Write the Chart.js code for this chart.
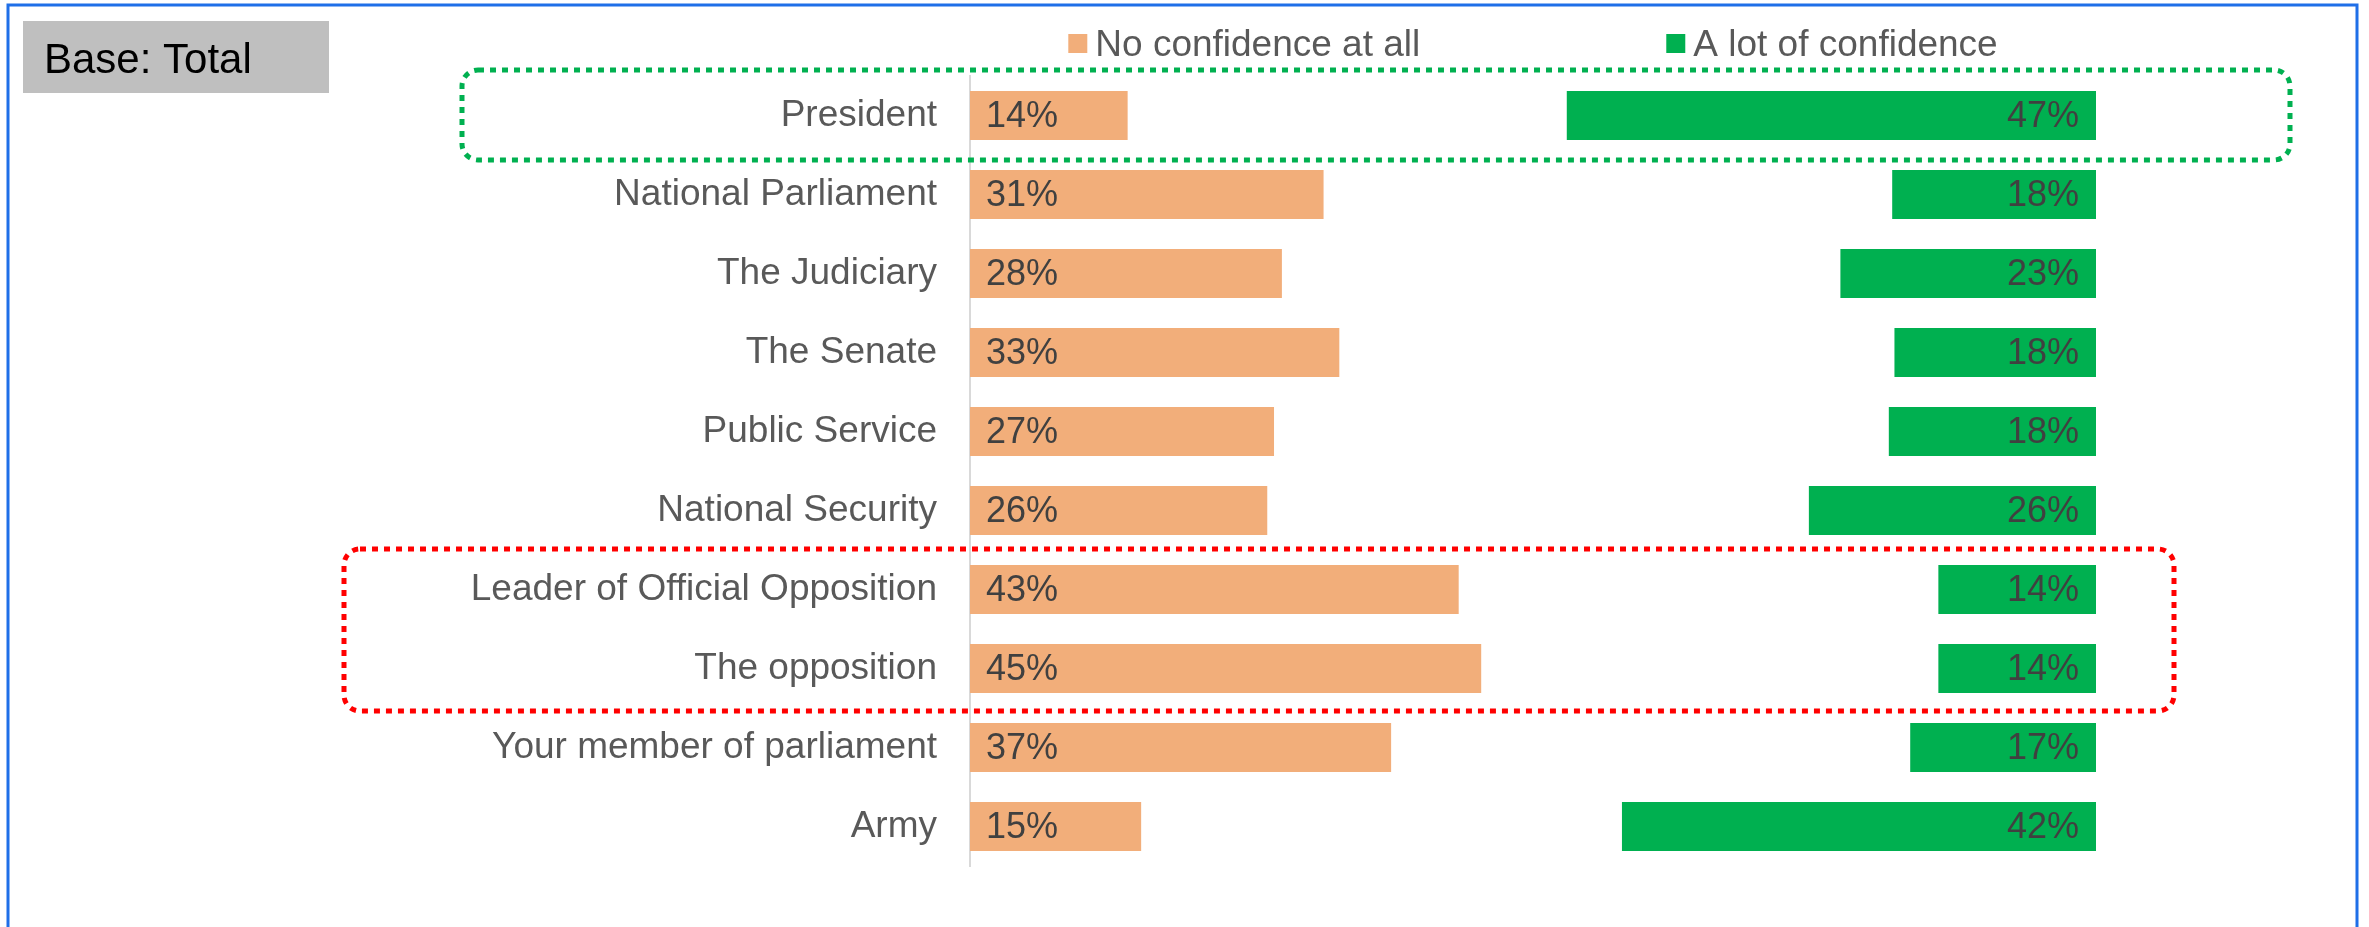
<!DOCTYPE html>
<html>
<head>
<meta charset="utf-8">
<script src="https://cdn.jsdelivr.net/npm/chart.js@4.4.1/dist/chart.umd.min.js"></script>
<style>
html,body{margin:0;padding:0;background:#ffffff;overflow:hidden;}
canvas{display:block;}
</style>
</head>
<body>
<canvas id="c" width="2369" height="927"></canvas>
<script>
// ---- data ----
const categories = [
  'President',
  'National Parliament',
  'The Judiciary',
  'The Senate',
  'Public Service',
  'National Security',
  'Leader of Official Opposition',
  'The opposition',
  'Your member of parliament',
  'Army'
];
const noConfidence  = [14.0, 31.4, 27.7, 32.8, 27.0, 26.4, 43.4, 45.4, 37.4, 15.2];
const lotConfidence = [47.0, 18.1, 22.7, 17.9, 18.4, 25.5, 14.0, 14.0, 16.5, 42.1];
const seriesNames = ['No confidence at all', 'A lot of confidence'];
const baseLabel = 'Base: Total';
const xTicks = [0, 100];

// ---- styles ----
const ORANGE = '#F2AE7A';
const GREEN = '#00B050';
const FONT = '"Liberation Sans", Arial, Helvetica, sans-serif';

const gap = categories.map((_, i) => 100 - noConfidence[i] - lotConfidence[i]);

function roundRectPath(ctx, x, y, w, h, r) {
  ctx.beginPath();
  ctx.moveTo(x + r, y);
  ctx.lineTo(x + w - r, y);
  ctx.arcTo(x + w, y, x + w, y + r, r);
  ctx.lineTo(x + w, y + h - r);
  ctx.arcTo(x + w, y + h, x + w - r, y + h, r);
  ctx.lineTo(x + r, y + h);
  ctx.arcTo(x, y + h, x, y + h - r, r);
  ctx.lineTo(x, y + r);
  ctx.arcTo(x, y, x + r, y, r);
  ctx.closePath();
}

const valueLabels = {
  id: 'valueLabels',
  afterDatasetsDraw(chart) {
    const ctx = chart.ctx;
    ctx.save();
    ctx.font = '36px ' + FONT;
    ctx.fillStyle = '#404040';
    ctx.textBaseline = 'middle';
    const m0 = chart.getDatasetMeta(0);
    m0.data.forEach((bar, i) => {
      ctx.textAlign = 'left';
      ctx.fillText(Math.round(noConfidence[i]) + '%', bar.base + 16, bar.y + 2);
    });
    const m2 = chart.getDatasetMeta(2);
    m2.data.forEach((bar, i) => {
      ctx.textAlign = 'right';
      ctx.fillText(Math.round(lotConfidence[i]) + '%', bar.x - 17, bar.y + 2);
    });
    ctx.restore();
  }
};

const decor = {
  id: 'decor',
  beforeDraw(chart) {
    const ctx = chart.ctx;
    ctx.save();
    ctx.fillStyle = '#ffffff';
    ctx.fillRect(0, 0, chart.width, chart.height);
    ctx.restore();
  },
  afterDraw(chart) {
    const ctx = chart.ctx;
    const ca = chart.chartArea;
    const ys = chart.scales.y;
    ctx.save();

    // Base box
    ctx.fillStyle = '#BFBFBF';
    ctx.fillRect(23, 21, 306, 72);
    ctx.fillStyle = '#000000';
    ctx.font = '42px ' + FONT;
    ctx.textAlign = 'left';
    ctx.textBaseline = 'middle';
    ctx.fillText(baseLabel, 44, 61);

    // Legend (centered over chart area)
    ctx.font = '37px ' + FONT;
    const sq = 19, sqGap = 8, itemGap = 246;
    const w1 = ctx.measureText(seriesNames[0]).width;
    const w2 = ctx.measureText(seriesNames[1]).width;
    const total = sq + sqGap + w1 + itemGap + sq + sqGap + w2;
    let lx = (ca.left + ca.right) / 2 - total / 2;
    const ly = 46;
    ctx.fillStyle = ORANGE;
    ctx.fillRect(lx, ly - 12, sq, sq);
    ctx.fillStyle = '#595959';
    ctx.fillText(seriesNames[0], lx + sq + sqGap, ly);
    lx += sq + sqGap + w1 + itemGap;
    ctx.fillStyle = GREEN;
    ctx.fillRect(lx, ly - 12, sq, sq);
    ctx.fillStyle = '#595959';
    ctx.fillText(seriesNames[1], lx + sq + sqGap, ly);

    // Highlight boxes
    ctx.setLineDash([6, 6]);
    ctx.lineWidth = 5;
    const y0 = ys.getPixelForValue(0);
    ctx.strokeStyle = GREEN;
    roundRectPath(ctx, ca.left - 508, y0 - 45.5, (ca.right + 194) - (ca.left - 508), 90, 16);
    ctx.stroke();
    const y6 = ys.getPixelForValue(6), y7 = ys.getPixelForValue(7);
    ctx.strokeStyle = '#FF0000';
    roundRectPath(ctx, ca.left - 626, y6 - 40.5, (ca.right + 78) - (ca.left - 626), (y7 + 42.5) - (y6 - 40.5), 16);
    ctx.stroke();
    ctx.setLineDash([]);

    // Outer blue frame (open at bottom)
    ctx.strokeStyle = '#1F6FE8';
    ctx.lineWidth = 3;
    ctx.beginPath();
    ctx.moveTo(8, chart.height + 5);
    ctx.lineTo(8, 5);
    ctx.lineTo(2357, 5);
    ctx.lineTo(2357, chart.height + 5);
    ctx.stroke();
    ctx.restore();
  }
};

new Chart(document.getElementById('c'), {
  type: 'bar',
  data: {
    labels: categories,
    datasets: [
      { label: seriesNames[0], data: noConfidence, backgroundColor: ORANGE, borderWidth: 0 },
      { label: 'gap', data: gap, backgroundColor: 'rgba(0,0,0,0)', borderWidth: 0 },
      { label: seriesNames[1], data: lotConfidence, backgroundColor: GREEN, borderWidth: 0 }
    ]
  },
  options: {
    indexAxis: 'y',
    responsive: false,
    animation: false,
    devicePixelRatio: 1,
    datasets: { bar: { barPercentage: 0.62, categoryPercentage: 1.0 } },
    layout: { padding: { left: 0, right: 273, top: 76, bottom: 61 } },
    plugins: { legend: { display: false }, tooltip: { enabled: false } },
    scales: {
      x: {
        stacked: true, min: xTicks[0], max: xTicks[1], display: false
      },
      y: {
        stacked: true,
        grid: { display: false, drawTicks: false },
        border: { display: true, color: '#D9D9D9', width: 2 },
        ticks: { color: '#595959', font: { family: FONT, size: 37 }, padding: 33 },
        afterFit(scale) { scale.width = 970; }
      }
    }
  },
  plugins: [decor, valueLabels]
});
</script>
</body>
</html>
